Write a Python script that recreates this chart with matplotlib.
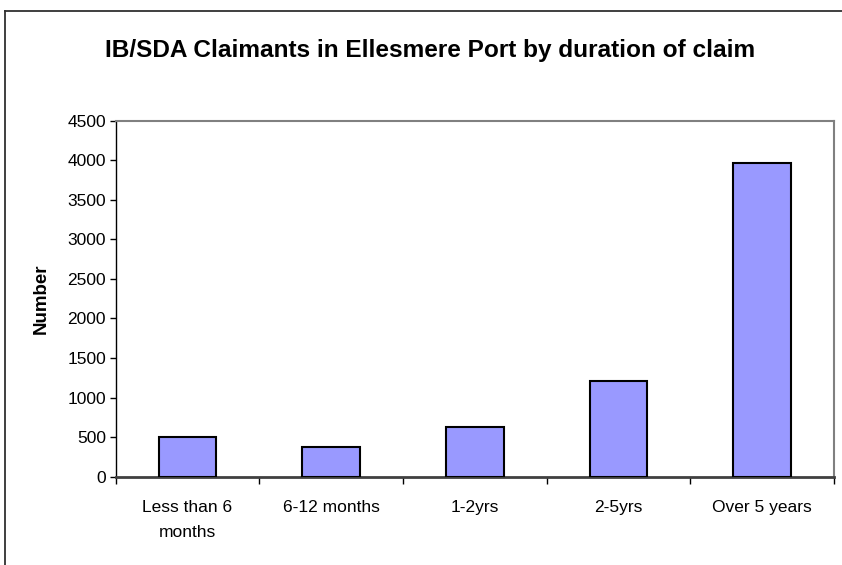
import matplotlib
matplotlib.use("Agg")
import matplotlib.pyplot as plt
from matplotlib.lines import Line2D

# Claimants by duration of claim
categories = ["Less than 6\nmonths", "6-12 months", "1-2yrs", "2-5yrs", "Over 5 years"]
claimants = [500, 372, 630, 1210, 3970]
y_ticks = [0, 500, 1000, 1500, 2000, 2500, 3000, 3500, 4000, 4500]

plt.rcParams['font.family'] = ['Liberation Sans', 'DejaVu Sans']

fig = plt.figure(figsize=(8.42, 5.65), dpi=100)
ax = fig.add_axes([0.1374, 0.1563, 0.8531, 0.6301])

x = list(range(len(categories)))
ax.bar(x, claimants, width=0.4, color='#9999FF', edgecolor='black', linewidth=1.5, zorder=3)

ax.set_xlim(-0.5, len(categories) - 0.5)
ax.set_ylim(0, 4500)
ax.set_yticks(y_ticks)
ax.set_yticklabels([str(v) for v in y_ticks], fontsize=12.5)

# category labels centred, tick marks between categories
ax.set_xticks(x)
ax.set_xticklabels(categories, fontsize=12.5, linespacing=1.8)
ax.tick_params(axis='x', length=0, pad=17)
ax.set_xticks([i - 0.5 for i in range(len(categories) + 1)], minor=True)
ax.tick_params(axis='x', which='minor', length=5, width=1, direction='out', color='black')
ax.tick_params(axis='y', length=4, width=1, pad=3, direction='out')

ax.spines['left'].set_color('black')
ax.spines['left'].set_linewidth(1)
ax.spines['bottom'].set_color('#404040')
ax.spines['bottom'].set_linewidth(2)
ax.spines['top'].set_color('#808080')
ax.spines['right'].set_color('#808080')
ax.spines['top'].set_linewidth(1.5)
ax.spines['right'].set_linewidth(1.5)

ax.set_ylabel('Number', fontsize=13.5, fontweight='bold')
ax.yaxis.set_label_coords(-0.092, 0.5)

fig.text(0.511, 0.899, 'IB/SDA Claimants in Ellesmere Port by duration of claim',
         ha='center', va='baseline', fontsize=17.6, fontweight='bold')

# outer chart frame
fx = 4.5 / 842
fy = 1 - 10.7 / 565
fig.add_artist(Line2D([fx, fx], [-0.05, fy], transform=fig.transFigure, color='#303030', linewidth=1.3))
fig.add_artist(Line2D([fx, 1.05], [fy, fy], transform=fig.transFigure, color='#303030', linewidth=1.3))

fig.savefig('out.png', dpi=100, facecolor='white')
